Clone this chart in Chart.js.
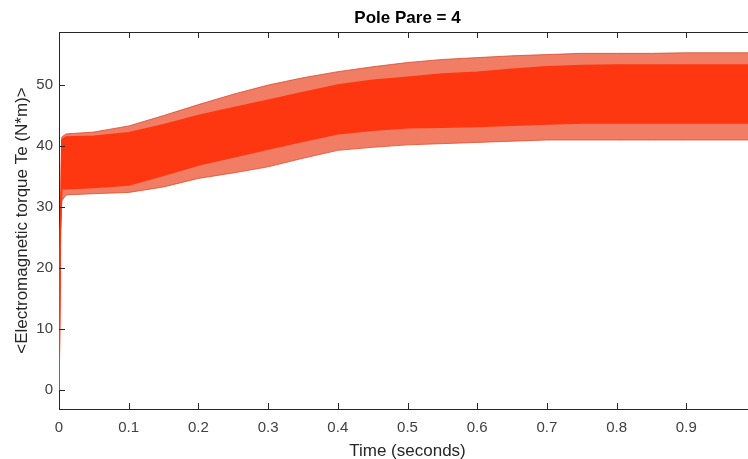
<!DOCTYPE html>
<html>
<head>
<meta charset="utf-8">
<script src="https://cdn.jsdelivr.net/npm/chart.js@4/dist/chart.umd.min.js"></script>
<style>
  html, body { margin: 0; padding: 0; background: #fff; overflow: hidden; }
  #wrap { width: 748px; height: 459px; overflow: hidden; }
</style>
</head>
<body>
<div id="wrap"><canvas id="torque-chart" width="780" height="462"></canvas></div>
<script>
// torque envelope (time in seconds, Te in N*m)
const times     = [0, 0.002, 0.004, 0.01, 0.05, 0.1, 0.15, 0.2, 0.25, 0.3, 0.35, 0.4, 0.45, 0.5, 0.55, 0.6, 0.65, 0.7, 0.75, 0.8, 0.85, 0.9, 0.95, 1.0];
const spikeHigh = [0, 26, 41.5, 42, 42.3, 43.3, 45, 46.8, 48.5, 50, 51.2, 52.2, 53, 53.7, 54.2, 54.5, 54.8, 55, 55.2, 55.2, 55.2, 55.3, 55.3, 55.3];
const coreHigh  = [0, 26, 41, 41.5, 41.6, 42.2, 43.5, 45, 46.3, 47.5, 48.8, 50, 50.8, 51.3, 51.8, 52.1, 52.6, 53, 53.2, 53.3, 53.3, 53.3, 53.3, 53.3];
const coreLow   = [0, 26, 33, 33, 33.2, 33.6, 35.2, 36.9, 38.2, 39.5, 40.8, 42, 42.6, 43, 43.1, 43.2, 43.4, 43.6, 43.8, 43.8, 43.8, 43.8, 43.8, 43.8];
const spikeLow  = [0, 26, 31, 32, 32.2, 32.4, 33.3, 34.7, 35.6, 36.6, 38, 39.3, 39.8, 40.2, 40.4, 40.6, 40.8, 41, 41, 41, 41, 41, 41, 41];

const xTicks = [0, 0.1, 0.2, 0.3, 0.4, 0.5, 0.6, 0.7, 0.8, 0.9, 1];
const yTicks = [0, 10, 20, 30, 40, 50];

const chartTitle = "Pole Pare = 4";
const xTitle = "Time (seconds)";
const yTitle = "<Electromagnetic torque Te (N*m)>";

const toPoints = (arr) => times.map((t, i) => ({ x: t, y: arr[i] }));

const axisColor = "#262626";
const tickLen = 6;

// matlab-ish box: top border, inward tick marks, centred title
const boxPlugin = {
  id: "box",
  afterDraw(chart) {
    const { ctx, chartArea: a, scales } = chart;
    ctx.save();
    ctx.strokeStyle = axisColor;
    ctx.lineWidth = 1;
    ctx.beginPath();
    ctx.moveTo(a.left, a.top + 0.5);
    ctx.lineTo(a.right, a.top + 0.5);
    ctx.moveTo(a.right - 0.5, a.top);
    ctx.lineTo(a.right - 0.5, a.bottom);
    scales.x.ticks.forEach((t) => {
      const px = Math.round(scales.x.getPixelForValue(t.value)) + 0.5;
      ctx.moveTo(px, a.bottom);
      ctx.lineTo(px, a.bottom - tickLen);
      ctx.moveTo(px, a.top);
      ctx.lineTo(px, a.top + tickLen);
    });
    scales.y.ticks.forEach((t) => {
      const py = Math.round(scales.y.getPixelForValue(t.value)) + 0.5;
      ctx.moveTo(a.left, py);
      ctx.lineTo(a.left + tickLen, py);
      ctx.moveTo(a.right, py);
      ctx.lineTo(a.right - tickLen, py);
    });
    ctx.stroke();

    ctx.fillStyle = "#000";
    ctx.font = "bold 17px 'Liberation Sans', Arial, sans-serif";
    ctx.textAlign = "center";
    ctx.textBaseline = "middle";
    ctx.fillText(chartTitle, (a.left + a.right) / 2, 18);
    ctx.restore();
  },
};

const ctx = document.getElementById("torque-chart").getContext("2d");

new Chart(ctx, {
  type: "line",
  data: {
    datasets: [
      {
        data: toPoints(coreHigh),
        borderColor: "#ff3710",
        backgroundColor: "#ff3710",
        borderWidth: 1.5,
        fill: "+1",
      },
      {
        data: toPoints(coreLow),
        borderColor: "#ff3710",
        borderWidth: 1.5,
        fill: false,
      },
      {
        data: toPoints(spikeHigh),
        borderColor: "rgba(215,70,40,0.75)",
        backgroundColor: "rgba(235,75,40,0.72)",
        borderWidth: 1,
        fill: "+1",
      },
      {
        data: toPoints(spikeLow),
        borderColor: "rgba(215,70,40,0.75)",
        borderWidth: 1,
        fill: false,
      },
    ],
  },
  options: {
    responsive: false,
    animation: false,
    devicePixelRatio: 1,
    elements: { point: { radius: 0 }, line: { tension: 0 } },
    layout: { padding: { top: 32, right: 24, bottom: 0, left: 0 } },
    plugins: {
      legend: { display: false },
      tooltip: { enabled: false },
      title: { display: false },
    },
    scales: {
      x: {
        type: "linear",
        min: 0,
        max: 1,
        afterBuildTicks: (scale) => {
          scale.ticks = xTicks.map((v) => ({ value: v }));
        },
        afterFit: (scale) => {
          scale.height = 53;
        },
        ticks: {
          callback: (v) => String(v),
          color: "#404040",
          font: { family: "'Liberation Sans', Arial, sans-serif", size: 15 },
          padding: 10,
          maxRotation: 0,
          autoSkip: false,
        },
        grid: { display: true, drawOnChartArea: false, drawTicks: false },
        border: { display: true, color: axisColor, width: 1 },
        title: {
          display: true,
          text: xTitle,
          color: "#262626",
          font: { family: "'Liberation Sans', Arial, sans-serif", size: 17 },
          padding: { top: 0, bottom: 0 },
        },
      },
      y: {
        type: "linear",
        min: -3.1,
        max: 58.7,
        afterBuildTicks: (scale) => {
          scale.ticks = yTicks.map((v) => ({ value: v }));
        },
        afterFit: (scale) => {
          scale.width = 59;
        },
        ticks: {
          callback: (v) => String(v),
          color: "#404040",
          font: { family: "'Liberation Sans', Arial, sans-serif", size: 15 },
          padding: 6,
          autoSkip: false,
        },
        grid: { display: true, drawOnChartArea: false, drawTicks: false },
        border: { display: true, color: axisColor, width: 1 },
        title: {
          display: true,
          text: yTitle,
          color: "#262626",
          font: { family: "'Liberation Sans', Arial, sans-serif", size: 17 },
          padding: { top: 12, bottom: 0 },
        },
      },
    },
  },
  plugins: [boxPlugin],
});
</script>
</body>
</html>
